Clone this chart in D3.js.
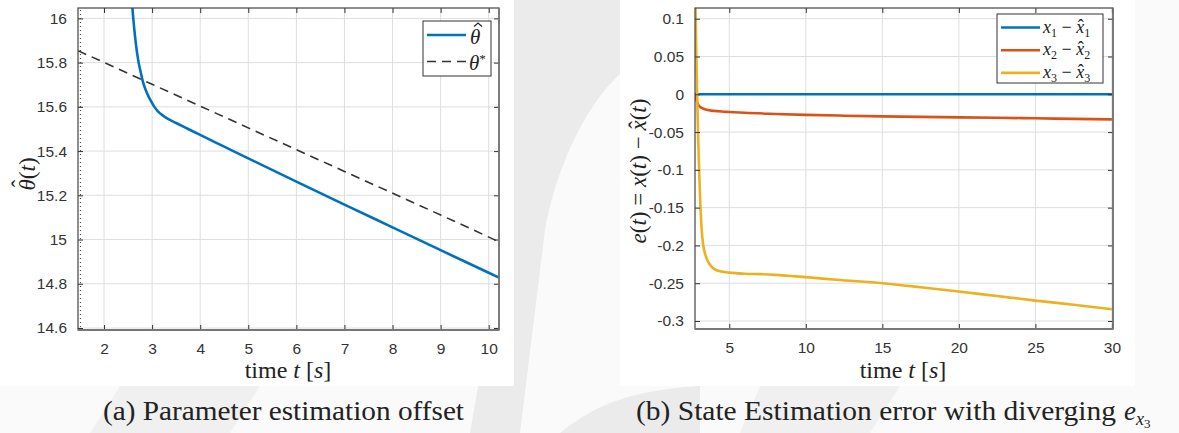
<!DOCTYPE html>
<html>
<head>
<meta charset="utf-8">
<script src="https://cdn.jsdelivr.net/npm/d3@7"></script>
<style>
  body { margin: 0; background: #fff; }
  .tick text { font-family: "Liberation Sans", Arial, sans-serif; font-size: 15.5px; fill: #333; }
  .serif { font-family: "Liberation Serif", "DejaVu Serif", serif; fill: #222; }
</style>
</head>
<body>
<div id="chart"></div>
<script>
// ---- data ----
// (a) parameter estimate
var thetaHatT = [2.55, 2.59, 2.63, 2.67, 2.72, 2.77, 2.8, 2.86, 2.93, 2.98, 3.04, 3.12, 3.23, 3.35, 3.5, 3.75, 4.0, 4.5, 5, 6, 7, 8, 9, 10, 10.214];
var thetaHatV = [16.2, 16.05, 15.95, 15.872, 15.8, 15.75, 15.721, 15.68, 15.645, 15.625, 15.602, 15.58, 15.56, 15.543, 15.527, 15.5, 15.473, 15.42, 15.367, 15.262, 15.158, 15.055, 14.952, 14.85, 14.828];
var thetaStarT = [1.459, 3, 5, 7, 9, 10.214];
var thetaStarV = [15.854, 15.702, 15.505, 15.308, 15.111, 14.99];
var xTicksA = [2, 3, 4, 5, 6, 7, 8, 9, 10];
var yTicksA = [14.6, 14.8, 15, 15.2, 15.4, 15.6, 15.8, 16];

// (b) state estimation error
var e1T = [2.92, 30];
var e1V = [0, 0];
var e2T = [2.76, 2.8, 2.85, 2.9, 2.95, 3.02, 3.1, 3.2, 3.3, 3.45, 3.6, 3.8, 4, 4.5, 5, 6, 8, 10, 12.5, 15, 17.5, 20, 22.5, 25, 27.5, 30];
var e2V = [0.002, -0.003, -0.007, -0.0105, -0.013, -0.0152, -0.0168, -0.018, -0.019, -0.0201, -0.0209, -0.0216, -0.022, -0.0228, -0.0234, -0.0245, -0.026, -0.0272, -0.0283, -0.0292, -0.0299, -0.0305, -0.0311, -0.0318, -0.0325, -0.0332];
var e3T = [2.76, 2.8, 2.85, 2.9, 2.95, 3.0, 3.05, 3.1, 3.2, 3.3, 3.45, 3.6, 3.8, 4.0, 4.5, 5, 6, 7, 8, 9, 10, 12, 15, 17.5, 20, 22.5, 25, 27.5, 30];
var e3V = [0.2, 0.11, 0.05, 0.0, -0.045, -0.08, -0.112, -0.14, -0.18, -0.2, -0.213, -0.221, -0.227, -0.231, -0.2345, -0.236, -0.2375, -0.238, -0.239, -0.2405, -0.242, -0.2455, -0.25, -0.2553, -0.261, -0.267, -0.273, -0.2785, -0.2845];
var xTicksB = [5, 10, 15, 20, 25, 30];
var yTicksB = [-0.3, -0.25, -0.2, -0.15, -0.1, -0.05, 0, 0.05, 0.1];

var svg = d3.select("#chart").append("svg")
  .attr("width", 1179)
  .attr("height", 433);

// faint watermark behind the two figures
svg.append("rect").attr("width", 1179).attr("height", 433).attr("fill", "#fafafa");
var wm = svg.append("g").attr("fill", "#ebebeb");
wm.append("path").attr("d", "M500,0 L640,0 L640,60 C600,80 560,150 545,230 L520,433 L470,433 L500,260 Z");
wm.append("path").attr("d", "M560,433 C600,400 640,390 700,386 L700,433 Z");
wm.append("path").attr("d", "M120,386 L260,386 L230,433 L90,433 Z").attr("fill", "#f0f0f0");
wm.append("path").attr("d", "M760,386 L900,386 L870,433 L740,433 Z").attr("fill", "#f0f0f0");
svg.append("rect").attr("x", 0).attr("y", 0).attr("width", 514).attr("height", 386).attr("fill", "#fff");
svg.append("rect").attr("x", 620).attr("y", 0).attr("width", 515).attr("height", 386).attr("fill", "#fff");

var colors = ["#0072BD", "#D95319", "#EDB120"];

function zip(ts, vs) { return ts.map(function(t, i) { return [t, vs[i]]; }); }

// base letter with a circumflex hat placed over it (fonts don't stack U+0302 nicely)
function hatted(sel, base, size, lift) {
  sel.append("tspan").attr("font-style", "italic").text(base);
  sel.append("tspan").attr("dx", -0.36 * size).attr("dy", -lift * size).text("\u02C6");
  return {dx: 0.03 * size, dy: lift * size};
}

function drawPanel(opt) {
  var g = svg.append("g").attr("transform", "translate(" + opt.left + "," + opt.top + ")");
  var w = opt.width, h = opt.height;
  var x = d3.scaleLinear().domain(opt.xDomain).range([0, w]);
  var y = d3.scaleLinear().domain(opt.yDomain).range([h, 0]);

  // grid
  g.append("g").selectAll("line.gx").data(opt.xTicks).enter().append("line")
    .attr("x1", function(d) { return x(d); }).attr("x2", function(d) { return x(d); })
    .attr("y1", 0).attr("y2", h)
    .attr("stroke", "#dedede").attr("stroke-width", 1);
  g.append("g").selectAll("line.gy").data(opt.yTicks).enter().append("line")
    .attr("y1", function(d) { return y(d); }).attr("y2", function(d) { return y(d); })
    .attr("x1", 0).attr("x2", w)
    .attr("stroke", "#dedede").attr("stroke-width", 1);

  var clipId = "clip" + opt.id;
  g.append("clipPath").attr("id", clipId).append("rect").attr("width", w).attr("height", h);
  var plot = g.append("g").attr("clip-path", "url(#" + clipId + ")");

  var line = d3.line().x(function(d) { return x(d[0]); }).y(function(d) { return y(d[1]); }).curve(d3.curveMonotoneX);
  opt.series.forEach(function(s) {
    plot.append("path")
      .datum(s.data)
      .attr("d", line)
      .attr("fill", "none")
      .attr("stroke", s.color)
      .attr("stroke-width", s.width)
      .attr("stroke-dasharray", s.dash || null);
  });

  // axes, ticks pointing inwards on all four sides
  var fmt = opt.fmt;
  g.append("g").attr("transform", "translate(0," + h + ")")
    .call(d3.axisBottom(x).tickValues(opt.xTicks).tickSize(-5).tickPadding(13).tickFormat(fmt.x));
  g.append("g")
    .call(d3.axisTop(x).tickValues(opt.xTicks).tickSize(-5).tickFormat(""));
  g.append("g")
    .call(d3.axisLeft(y).tickValues(opt.yTicks).tickSize(-5).tickPadding(11).tickFormat(fmt.y));
  g.append("g").attr("transform", "translate(" + w + ",0)")
    .call(d3.axisRight(y).tickValues(opt.yTicks).tickSize(-5).tickFormat(""));
  g.selectAll(".domain").attr("stroke", "none");
  g.selectAll(".tick line").attr("stroke", "#333");

  g.append("rect").attr("width", w).attr("height", h)
    .attr("fill", "none").attr("stroke", "#444").attr("stroke-width", 1.2);
  g.append("line").attr("x1", 0).attr("x2", w).attr("y1", h).attr("y2", h)
    .attr("stroke", "#777").attr("stroke-width", 1.8);
  g.append("line").attr("x1", w).attr("x2", w).attr("y1", 0).attr("y2", h)
    .attr("stroke", "#777").attr("stroke-width", 1.6);
  return {g: g, x: x, y: y, w: w, h: h};
}

function timeLabel(cx) {
  var t = svg.append("text").attr("class", "serif").attr("x", cx).attr("y", 378).attr("font-size", 24).attr("text-anchor", "middle");
  t.append("tspan").text("time ");
  t.append("tspan").attr("font-style", "italic").text("t");
  t.append("tspan").text(" [");
  t.append("tspan").attr("font-style", "italic").text("s");
  t.append("tspan").text("]");
}

// ---------- (a) ----------
var pa = drawPanel({
  id: "a", left: 78, top: 8, width: 421, height: 322,
  xDomain: [1.459, 10.214], yDomain: [14.591, 16.047],
  xTicks: xTicksA, yTicks: yTicksA,
  fmt: {x: d3.format("d"), y: function(d) { return d3.format("~g")(d); }},
  series: [
    {data: zip(thetaStarT, thetaStarV), color: "#333", width: 1.6, dash: "9,6"},
    {data: zip(thetaHatT, thetaHatV), color: colors[0], width: 2.6}
  ]
});
// dotted strip along the left edge
pa.g.append("line").attr("x1", 2.5).attr("x2", 2.5).attr("y1", 2).attr("y2", pa.h)
  .attr("stroke", "#444").attr("stroke-width", 1.2).attr("stroke-dasharray", "1,3");

// legend (a)
var la = pa.g.append("g").attr("transform", "translate(345,13)");
la.append("rect").attr("width", 68).attr("height", 55).attr("fill", "#fff").attr("stroke", "#333").attr("stroke-width", 1);
la.append("line").attr("x1", 4).attr("x2", 43).attr("y1", 14).attr("y2", 14).attr("stroke", colors[0]).attr("stroke-width", 2.6);
la.append("line").attr("x1", 4).attr("x2", 43).attr("y1", 40.5).attr("y2", 40.5).attr("stroke", "#333").attr("stroke-width", 1.6).attr("stroke-dasharray", "9,6");
la.append("text").attr("class", "serif").attr("x", 47).attr("y", 23).attr("font-size", 21)
  .attr("font-style", "italic").text("\u03B8");
// hat over the theta, drawn as a stroke
la.append("path").attr("d", "M51,5.5 L55,2 L59,5.5").attr("fill", "none").attr("stroke", "#222").attr("stroke-width", 1.2);
var ts = la.append("text").attr("class", "serif").attr("x", 46).attr("y", 49).attr("font-size", 21).attr("font-style", "italic");
ts.append("tspan").text("\u03B8");
ts.append("tspan").attr("font-size", 13).attr("font-style", "normal").attr("dy", -7).text("*");

// axis labels (a)
timeLabel(288);
var yla = svg.append("text").attr("class", "serif").attr("transform", "translate(35,174) rotate(-90)").attr("font-size", 23).attr("text-anchor", "middle");
var back = hatted(yla, "\u03B8", 23, 0.3);
yla.append("tspan").attr("dx", back.dx).attr("dy", back.dy).text("(");
yla.append("tspan").attr("font-style", "italic").text("t");
yla.append("tspan").text(")");

// ---------- (b) ----------
var pb = drawPanel({
  id: "b", left: 695, top: 8, width: 418, height: 321,
  xDomain: [2.76, 30.07], yDomain: [-0.3106, 0.1142],
  xTicks: xTicksB, yTicks: yTicksB,
  fmt: {x: d3.format("d"), y: function(d) { return d3.format("~g")(d).replace("\u2212", "-"); }},
  series: [
    {data: zip(e1T, e1V), color: colors[0], width: 2.6},
    {data: zip(e2T, e2V), color: colors[1], width: 2.6},
    {data: zip(e3T, e3V), color: colors[2], width: 2.6}
  ]
});

// legend (b)
var lb = pb.g.append("g").attr("transform", "translate(302,6)");
lb.append("rect").attr("width", 106).attr("height", 69).attr("fill", "#fff").attr("stroke", "#333").attr("stroke-width", 1);
var subs = ["1", "2", "3"];
subs.forEach(function(n, i) {
  var yy = 13.5 + i * 22.7;
  lb.append("line").attr("x1", 4).attr("x2", 43).attr("y1", yy).attr("y2", yy).attr("stroke", colors[i]).attr("stroke-width", 2.6);
  var t = lb.append("text").attr("class", "serif").attr("x", 46).attr("y", yy + 5).attr("font-size", 18);
  t.append("tspan").attr("font-style", "italic").text("x");
  t.append("tspan").attr("font-size", 12).attr("dy", 4).text(n);
  t.append("tspan").attr("dy", -4).text(" \u2212 ");
  var b = hatted(t, "x", 18, 0.05);
  t.append("tspan").attr("font-size", 12).attr("dx", b.dx).attr("dy", b.dy + 4).text(n);
});

// axis labels (b)
timeLabel(903);
var ylb = svg.append("text").attr("class", "serif").attr("transform", "translate(646,171) rotate(-90)").attr("font-size", 23).attr("text-anchor", "middle");
ylb.append("tspan").attr("font-style", "italic").text("e");
ylb.append("tspan").text("(");
ylb.append("tspan").attr("font-style", "italic").text("t");
ylb.append("tspan").text(") = ");
ylb.append("tspan").attr("font-style", "italic").text("x");
ylb.append("tspan").text("(");
ylb.append("tspan").attr("font-style", "italic").text("t");
ylb.append("tspan").text(") \u2212 ");
var bb = hatted(ylb, "x", 23, 0.05);
ylb.append("tspan").attr("dx", bb.dx).attr("dy", bb.dy).text("(");
ylb.append("tspan").attr("font-style", "italic").text("t");
ylb.append("tspan").text(")");

// captions
svg.append("text").attr("class", "serif").attr("x", 103).attr("y", 420).attr("font-size", 27)
  .attr("textLength", 361).attr("lengthAdjust", "spacingAndGlyphs").text("(a) Parameter estimation offset");
svg.append("text").attr("class", "serif").attr("x", 636).attr("y", 420).attr("font-size", 27)
  .attr("textLength", 480).attr("lengthAdjust", "spacingAndGlyphs").text("(b) State Estimation error with diverging");
var cb = svg.append("text").attr("class", "serif").attr("x", 1124).attr("y", 420).attr("font-size", 27);
cb.append("tspan").attr("font-style", "italic").text("e");
cb.append("tspan").attr("font-style", "italic").attr("font-size", 18).attr("dy", 5).text("x");
cb.append("tspan").attr("font-size", 13).attr("dy", 3).text("3");
</script>
</body>
</html>
